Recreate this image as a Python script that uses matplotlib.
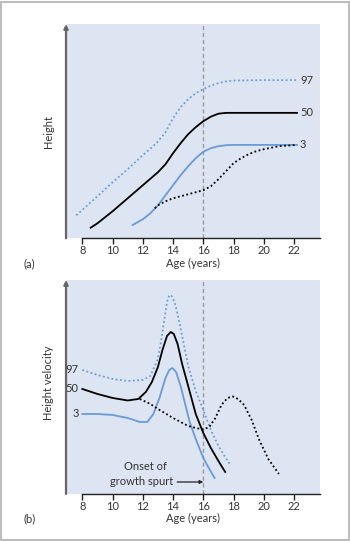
import matplotlib.pyplot as plt
from matplotlib.patches import Rectangle

plt.rcParams['font.family'] = ['Lato', 'DejaVu Sans']

ticks = [8, 10, 12, 14, 16, 18, 20, 22]

# (a) height curves
a97_x = [7.6, 9, 10, 11, 12, 12.9, 13.5, 14, 14.5, 15, 15.5, 16, 16.5, 17, 17.5, 18, 20, 22.2]
a97_y = [23, 42, 56, 69, 83, 95, 106, 120, 131, 139, 145, 149, 152.5, 155, 156.8, 157.6, 158, 158]
a50_x = [8.55, 9, 10, 11, 12, 13, 13.5, 14, 14.5, 15, 15.5, 16, 16.5, 17, 17.5, 18, 22.2]
a50_y = [10.6, 15, 27, 40, 53, 66, 74, 85, 95, 104, 111, 117, 121.5, 124.5, 125.3, 125.3, 125.3]
a3_x = [11.33, 12, 12.5, 13, 13.5, 14, 14.5, 15, 15.5, 16, 16.5, 17, 17.5, 18, 22.2]
a3_y = [13.3, 19, 25, 33, 43, 53, 63, 72, 80, 86.5, 90, 92, 93, 93.3, 93.3]
alate_x = [12.8, 13, 13.5, 14, 14.5, 15, 15.5, 16, 16.5, 17, 17.5, 18, 18.5, 19, 19.5, 20, 21, 22.2]
alate_y = [30, 33, 37, 40, 42, 44, 46, 48, 52, 59, 67, 75, 80, 84, 87, 89, 92, 93.3]

# (b) height velocity curves
b97_x = [8, 9, 10, 11, 12, 12.5, 13, 13.2, 13.4, 13.6, 13.75, 13.9, 14.1, 14.3, 14.6, 15, 15.5, 16, 16.5, 17, 17.4, 17.8]
b97_y = [124, 119, 115, 113, 114, 118, 135, 152, 172, 192, 199, 198, 192, 180, 158, 128, 103, 84, 64, 48, 38, 29]
b50_x = [8, 9, 10, 11, 11.7, 12.2, 12.6, 13, 13.3, 13.6, 13.85, 14.05, 14.3, 14.6, 15, 15.5, 16, 16.5, 17, 17.45]
b50_y = [105, 100, 96, 93.5, 95, 102, 112, 127, 144, 158, 162, 160, 150, 130, 108, 80, 61, 46, 33, 22]
b3_x = [8, 9, 10, 11, 11.8, 12.3, 12.7, 13.1, 13.5, 13.75, 13.95, 14.2, 14.5, 14.8, 15.1, 15.5, 16, 16.4, 16.75]
b3_y = [80, 80, 79, 76, 72, 72, 80, 96, 116, 124, 126, 122, 108, 90, 72, 55, 36, 25, 16]
blate_x = [11.8, 12.5, 13, 14, 15, 15.5, 16, 16.4, 16.8, 17.2, 17.6, 17.95, 18.3, 18.7, 19.2, 19.7, 20.3, 21]
blate_y = [95, 90, 85, 76, 68, 66, 64.5, 67, 76, 89, 96, 97.5, 95, 89, 74, 54, 35, 20]

bg = '#dde5f2'
blue = '#6b9bd6'
grey_txt = '#333333'
fs = 8

fig = plt.figure(figsize=(3.5, 5.41), dpi=100)
fig.patches.append(Rectangle((0.002, 0.002), 0.994, 0.995, transform=fig.transFigure,
                             fill=False, edgecolor='#bdbdbd', linewidth=1.5))

ax1 = fig.add_axes([0.1886, 0.5595, 0.7257, 0.396])
ax2 = fig.add_axes([0.1886, 0.0869, 0.7257, 0.3956])

for ax in (ax1, ax2):
    ax.set_facecolor(bg)
    ax.set_xlim(6.92, 23.72)
    ax.set_ylim(0, 214)
    for s in ['top', 'right', 'left']:
        ax.spines[s].set_visible(False)
    ax.spines['bottom'].set_bounds(8, 23.72)
    ax.spines['bottom'].set_color('#222222')
    ax.spines['bottom'].set_linewidth(1.0)
    ax.set_xticks(ticks)
    ax.set_yticks([])
    ax.tick_params(axis='x', direction='out', length=4, width=1, color='#222222',
                   labelsize=fs, labelcolor=grey_txt, pad=1)
    ax.set_xlabel('Age (years)', fontsize=fs, color=grey_txt, labelpad=1)
    ax.axvline(16, color='#9a9a9a', linewidth=1, linestyle=(0, (3, 2)))
    ax.annotate('', xy=(6.92, 214), xytext=(6.92, 0), xycoords='data',
                arrowprops=dict(arrowstyle='-|>', color='#666666', lw=1.6,
                                mutation_scale=6, shrinkA=0, shrinkB=0),
                annotation_clip=False)

dot = (0, (1, 1.4))

ax1.plot(a97_x, a97_y, color=blue, linewidth=1.3, linestyle=dot)
ax1.plot(a50_x, a50_y, color='black', linewidth=1.3)
ax1.plot(a3_x, a3_y, color=blue, linewidth=1.3)
ax1.plot(alate_x, alate_y, color='black', linewidth=1.3, linestyle=dot)
ax1.text(22.4, a97_y[-1], '97', fontsize=fs, color=grey_txt, va='center')
ax1.text(22.4, a50_y[-1], '50', fontsize=fs, color=grey_txt, va='center')
ax1.text(22.4, a3_y[-1], '3', fontsize=fs, color=grey_txt, va='center')
ax1.text(5.73, 107, 'Height', rotation=90, fontsize=fs, color=grey_txt, ha='center', va='center')
ax1.text(4.1, -25, '(a)', fontsize=fs, color=grey_txt, ha='left', va='center')

ax2.plot(b97_x, b97_y, color=blue, linewidth=1.3, linestyle=dot)
ax2.plot(b50_x, b50_y, color='black', linewidth=1.3)
ax2.plot(b3_x, b3_y, color=blue, linewidth=1.3)
ax2.plot(blate_x, blate_y, color='black', linewidth=1.3, linestyle=dot)
ax2.text(7.75, b97_y[0], '97', fontsize=fs, color=grey_txt, ha='right', va='center')
ax2.text(7.75, b50_y[0], '50', fontsize=fs, color=grey_txt, ha='right', va='center')
ax2.text(7.75, b3_y[0], '3', fontsize=fs, color=grey_txt, ha='right', va='center')
ax2.text(5.73, 111, 'Height velocity', rotation=90, fontsize=fs, color=grey_txt, ha='center', va='center')
ax2.text(4.1, -25, '(b)', fontsize=fs, color=grey_txt, ha='left', va='center')
ax2.text(12.2, 27, 'Onset of', fontsize=fs, color=grey_txt, ha='center', va='center')
ax2.annotate('growth spurt', xy=(16, 12), xytext=(14.0, 12), fontsize=fs, color=grey_txt,
             ha='right', va='center',
             arrowprops=dict(arrowstyle='-|>', color='#222222', lw=0.9, mutation_scale=5,
                             shrinkA=1, shrinkB=0))

fig.savefig('out.png', dpi=100)
